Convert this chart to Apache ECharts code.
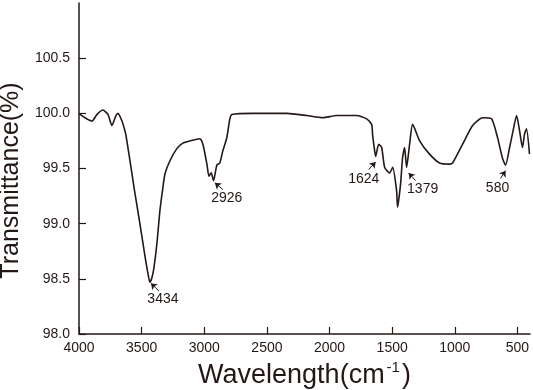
<!DOCTYPE html>
<html>
<head>
<meta charset="utf-8">
<script src="https://cdn.jsdelivr.net/npm/echarts@6/dist/echarts.min.js"></script>
<style>
  html, body { margin: 0; padding: 0; background: #fff; }
  #chart { width: 533px; height: 390px; }
</style>
</head>
<body>
<div id="chart"></div>
<script>
// FTIR spectrum (wavenumber cm-1, transmittance %)
const wavenumber = [4000, 3952, 3896, 3856, 3809, 3769, 3737, 3705, 3689, 3657, 3633, 3625,
  3593, 3554, 3514, 3474, 3450, 3434, 3418, 3402, 3378, 3354, 3330, 3314, 3274, 3219, 3171,
  3115, 3035, 3011, 2979, 2963, 2945, 2926, 2900, 2876, 2852, 2820, 2796, 2780, 2613, 2342,
  2182, 2054, 1943, 1784, 1704, 1664, 1656, 1640, 1632, 1608, 1584, 1560, 1520, 1496, 1465,
  1457, 1433, 1417, 1401, 1385, 1361, 1337, 1281, 1202, 1122, 1042, 1018, 938, 858, 778, 707,
  659, 619, 595, 563, 539, 507, 483, 460, 444, 428, 404];
const transmittance = [100.00, 99.96, 99.93, 99.99, 100.03, 99.99, 99.89, 99.98, 100.00, 99.93, 99.84, 99.80,
  99.57, 99.28, 99.00, 98.71, 98.55, 98.47, 98.51, 98.60, 98.82, 99.12, 99.33, 99.45, 99.57, 99.68, 99.73,
  99.75, 99.77, 99.72, 99.54, 99.43, 99.46, 99.39, 99.53, 99.55, 99.66, 99.78, 99.95, 99.99, 100.00, 100.00,
  99.98, 99.96, 99.98, 99.98, 99.95, 99.90, 99.80, 99.66, 99.61, 99.72, 99.69, 99.51, 99.46, 99.51, 99.30,
  99.15, 99.36, 99.60, 99.69, 99.51, 99.72, 99.90, 99.75, 99.63, 99.55, 99.54, 99.55, 99.72, 99.89, 99.96, 99.95,
  99.78, 99.59, 99.53, 99.69, 99.82, 99.98, 99.84, 99.69, 99.81, 99.86, 99.63];

// peak annotations: label text, label centre, arrow tail and arrow head (data coords)
const peakLabels = ['3434', '2926', '1624', '1379', '580'];
const labelAt = [[3330, 98.32], [2820, 99.23], [1727, 99.40], [1257, 99.31], [659, 99.32]];
const arrowFrom = [[3362, 98.39], [2852, 99.31], [1688, 99.49], [1313, 99.39], [635, 99.41]];
const arrowTo = [[3426, 98.46], [2916, 99.37], [1632, 99.56], [1369, 99.46], [595, 99.48]];

const xTicks = [4000, 3500, 3000, 2500, 2000, 1500, 1000, 500];
const yTicks = [98.0, 98.5, 99.0, 99.5, 100.0, 100.5];

const ink = '#231815';
const font = 'Liberation Sans, Arial, sans-serif';

const option = {
  animation: false,
  grid: { left: 79, right: 3, top: 3, bottom: 56, outerBoundsMode: 'none' },
  xAxis: {
    type: 'value',
    inverse: true,
    min: 400,
    max: 4000,
    name: 'Wavelength(cm{sup|-1})',
    nameLocation: 'middle',
    nameGap: 22,
    nameTextStyle: {
      color: ink, fontFamily: font, fontSize: 27,
      rich: { sup: { fontSize: 15, color: ink, fontFamily: font, verticalAlign: 'top', padding: [0, 2, 16, 2] } }
    },
    axisLine: { lineStyle: { color: ink, width: 1.5 } },
    axisTick: { inside: true, length: 7, customValues: xTicks, lineStyle: { color: ink, width: 1.2 } },
    axisLabel: {
      customValues: xTicks, color: ink, fontFamily: font, fontSize: 14, margin: 7,
      formatter: v => String(v)
    },
    splitLine: { show: false }
  },
  yAxis: {
    type: 'value',
    min: 98,
    max: 101,
    name: 'Transmittance(%)',
    nameLocation: 'middle',
    nameGap: 53,
    nameTextStyle: { color: ink, fontFamily: font, fontSize: 25, padding: [0, 24, 0, 0] },
    axisLine: { show: true, lineStyle: { color: ink, width: 1.5 } },
    axisTick: { show: true, inside: true, length: 7, customValues: yTicks, lineStyle: { color: ink, width: 1.2 } },
    axisLabel: {
      customValues: yTicks, color: ink, fontFamily: font, fontSize: 14, margin: 9,
      formatter: v => v.toFixed(1)
    },
    splitLine: { show: false }
  },
  series: [{
    type: 'line',
    data: wavenumber.map((w, i) => [w, transmittance[i]]),
    showSymbol: false,
    smooth: 0.2,
    lineStyle: { color: ink, width: 1.6 },
    markLine: {
      silent: true,
      symbol: ['none', 'arrow'],
      symbolSize: 6,
      lineStyle: { color: ink, width: 1, type: 'solid' },
      label: { show: false },
      data: arrowFrom.map((p, i) => [{ coord: p }, { coord: arrowTo[i] }])
    },
    markPoint: {
      silent: true,
      symbol: 'circle',
      symbolSize: 0,
      label: { show: true, position: 'inside', color: ink, fontFamily: font, fontSize: 14, formatter: '{b}' },
      data: peakLabels.map((t, i) => ({ name: t, coord: labelAt[i] }))
    }
  }]
};

const chart = echarts.init(document.getElementById('chart'));
chart.setOption(option);
</script>
</body>
</html>
